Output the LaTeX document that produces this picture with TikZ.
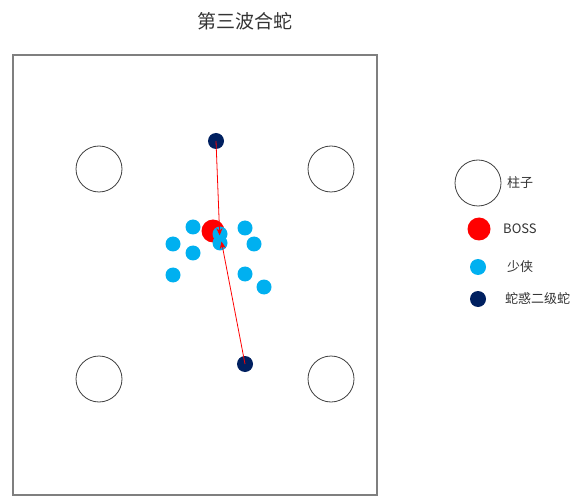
\documentclass[tikz,border=0pt]{standalone}
\usepackage{fontspec}
\setmainfont{Noto Sans CJK SC}
\usepackage{tikz}
\usetikzlibrary{arrows.meta}

\definecolor{snakeblue}{HTML}{002060}
\definecolor{herocyan}{HTML}{00B0F0}
\definecolor{framegray}{HTML}{7F7F7F}
\definecolor{textgray}{HTML}{333333}

\begin{document}
\begin{tikzpicture}[x=1pt, y=-1pt,
    pillar/.style={circle, draw=black!75, line width=0.8pt, inner sep=0, minimum size=46pt},
    boss/.style={circle, fill=red, inner sep=0, minimum size=23pt},
    hero/.style={circle, fill=herocyan, inner sep=0, minimum size=15pt},
    snake/.style={circle, fill=snakeblue, inner sep=0, minimum size=16pt},
    legtext/.style={anchor=west, text=textgray, font=\fontsize{13}{15}\selectfont, inner sep=0},
    bite/.style={->, red, line width=0.8pt, >={Stealth[length=7pt, width=6pt]}}]
            \useasboundingbox (0, 0) rectangle (580, 502);

            \node[text=textgray, font=\fontsize{19}{22}\selectfont] (title) at (245, 21) {第三波合蛇};
            \draw[framegray, line width=1.5pt] (13, 55) rectangle (377, 495);

            \node[pillar] (p1) at (99, 169) {};
            \node[pillar] (p2) at (331, 169) {};
            \node[pillar] (p3) at (99, 379) {};
            \node[pillar] (p4) at (331, 379) {};

            \node[boss] (b) at (213, 231) {};

            \node[hero] (h1) at (193, 227) {};
            \node[hero] (h2) at (173, 244) {};
            \node[hero] (h3) at (193, 253) {};
            \node[hero] (h4) at (173, 275) {};
            \node[hero] (h5) at (245, 228) {};
            \node[hero] (h6) at (254, 244) {};
            \node[hero] (h7) at (245, 274) {};
            \node[hero] (h8) at (264, 287) {};
            \node[hero] (x1) at (220, 234) {};
            \node[hero] (x2) at (220, 243) {};

            \node[snake] (s1) at (216, 141) {};
            \node[snake] (s2) at (245, 364) {};

            \draw[bite] (s1.center) to (x2);
            \draw[bite] (s2.center) to (x1);

            \node[pillar] (l1) at (478, 183) {};
            \node[boss] (l2) at (479, 229) {};
            \node[hero, minimum size=16pt] (l3) at (478, 267) {};
            \node[snake] (l4) at (478, 299) {};

            \node[legtext] (t1) at (507, 183) {柱子};
            \node[legtext] (t2) at (503, 229) {BOSS};
            \node[legtext] (t3) at (507, 267) {少侠};
            \node[legtext] (t4) at (505, 299) {蛇惑二级蛇};
        \end{tikzpicture}
\end{document}
